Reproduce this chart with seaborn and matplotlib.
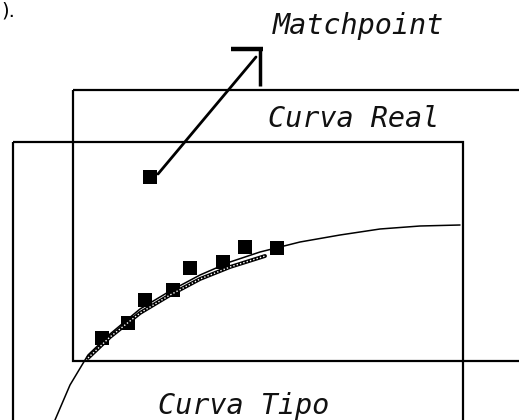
import matplotlib
matplotlib.use('Agg')
import matplotlib.pyplot as plt
import seaborn as sns
import pandas as pd
from matplotlib.patches import Rectangle

# Diagram coordinates (picture space, y grows downward)
tipo_x = [55, 70, 88, 110, 140, 170, 200, 230, 260, 300, 340, 380, 420, 460]
tipo_y = [420, 385, 355, 334, 309, 291, 275, 262, 252, 242, 235, 229, 226, 225]

real_x = [88, 110, 140, 170, 200, 230, 265]
real_y = [358, 337, 313, 295, 279, 267, 256]

puntos_x = [102, 128, 145, 173, 190, 223, 245, 277]
puntos_y = [338, 323, 300, 290, 268, 262, 247, 248]

match_x = [150]
match_y = [177]

flecha_x = [158, 256]
flecha_y = [174, 57]

# rectangles: (left, top, right, bottom)
rect_real = (73, 90, 530, 361)
rect_tipo = (13, 142, 463, 425)

etiquetas = ["Matchpoint", "Curva Real", "Curva Tipo"]
etiq_x = [273, 268, 158]
etiq_y = [26, 119, 406]

sns.set_style("white")

fig = plt.figure(figsize=(5.19, 4.20), dpi=100)
ax = fig.add_axes([0, 0, 1, 1])
ax.set_xlim(0, 519)
ax.set_ylim(420, 0)
ax.axis('off')

for (l, t, r, b) in [rect_real, rect_tipo]:
    ax.add_patch(Rectangle((l, t), r - l, b - t, fill=False,
                           edgecolor='black', linewidth=1.6))

df_tipo = pd.DataFrame({'x': tipo_x, 'y': tipo_y})
sns.lineplot(data=df_tipo, x='x', y='y', sort=False, color='black',
             linewidth=1.1, ax=ax)

df_real = pd.DataFrame({'x': real_x, 'y': real_y})
sns.lineplot(data=df_real, x='x', y='y', sort=False, color='black',
             linewidth=2.8, ax=ax)
sns.lineplot(data=df_real, x='x', y='y', sort=False, color='white',
             linewidth=1.0, linestyle=(0, (1, 1.5)), ax=ax)

df_pts = pd.DataFrame({'x': puntos_x, 'y': puntos_y})
sns.scatterplot(data=df_pts, x='x', y='y', marker='s', s=110,
                color='black', edgecolor='black', linewidth=0, ax=ax)

# flecha del matchpoint
df_flecha = pd.DataFrame({'x': flecha_x, 'y': flecha_y})
sns.lineplot(data=df_flecha, x='x', y='y', sort=False, color='black',
             linewidth=2.0, ax=ax)
ax.plot([231, 263], [49, 49], color='black', linewidth=3.2,
        solid_capstyle='butt')
ax.plot([260, 260], [48, 86], color='black', linewidth=2.5,
        solid_capstyle='butt')

df_match = pd.DataFrame({'x': match_x, 'y': match_y})
sns.scatterplot(data=df_match, x='x', y='y', marker='s', s=110,
                color='black', linewidth=0, ax=ax)

for txt, x, y in zip(etiquetas, etiq_x, etiq_y):
    ax.text(x, y, txt, fontsize=20.5, family='DejaVu Sans Mono',
            style='italic', color='#111111', ha='left', va='center')

ax.text(1, 11, ").", fontsize=14, color='black', ha='left', va='center')

fig.savefig('out.png', dpi=100)
